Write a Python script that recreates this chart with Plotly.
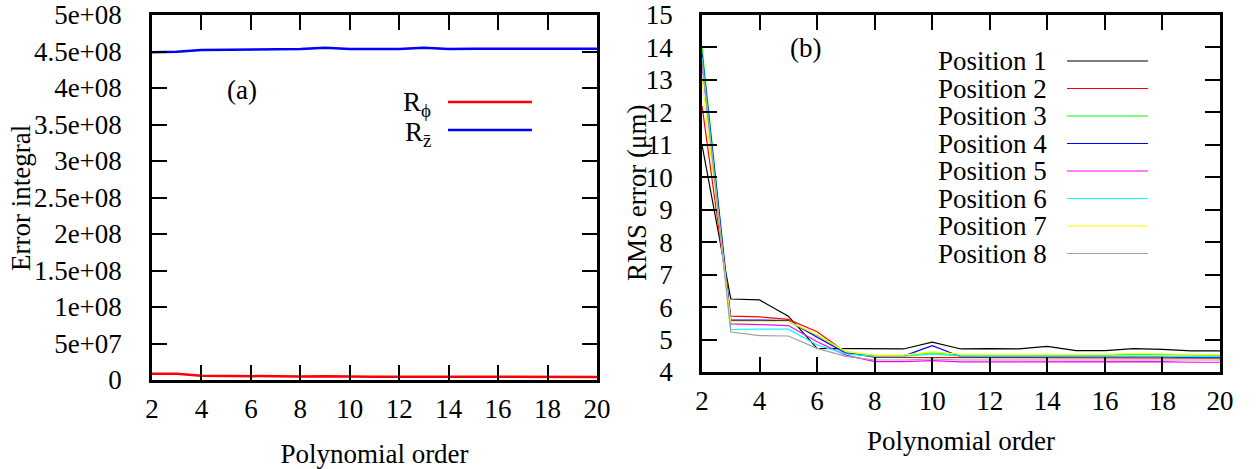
import plotly.graph_objects as go

orders = list(range(2, 21))

# Panel (a): error integral
r_phi = [8.6e6, 8.4e6, 5.9e6, 5.5e6, 5.0e6, 4.8e6, 4.8e6, 5.2e6, 4.6e6, 4.5e6,
         4.5e6, 4.5e6, 4.3e6, 4.2e6, 4.2e6, 4.2e6, 4.2e6, 4.2e6, 4.2e6]
r_z = [4.489e8, 4.495e8, 4.520e8, 4.525e8, 4.530e8, 4.532e8, 4.533e8, 4.552e8, 4.534e8, 4.534e8,
       4.534e8, 4.552e8, 4.534e8, 4.536e8, 4.537e8, 4.538e8, 4.538e8, 4.538e8, 4.539e8]

left_ytickvals = [0, 5e7, 1e8, 1.5e8, 2e8, 2.5e8, 3e8, 3.5e8, 4e8, 4.5e8, 5e8]
left_yticktext = ["0", "5e+07", "1e+08", "1.5e+08", "2e+08", "2.5e+08", "3e+08",
                  "3.5e+08", "4e+08", "4.5e+08", "5e+08"]
x_tickvals = [2, 4, 6, 8, 10, 12, 14, 16, 18, 20]

# Panel (b): RMS error per position
pos_names = ["Position 1", "Position 2", "Position 3", "Position 4",
             "Position 5", "Position 6", "Position 7", "Position 8"]
pos1 = [11.0, 6.25, 6.22, 5.72, 4.73, 4.72, 4.71, 4.71, 4.92, 4.71, 4.72, 4.71, 4.79, 4.66, 4.66, 4.72, 4.70, 4.65, 4.65]
pos2 = [12.2, 5.72, 5.70, 5.62, 5.24, 4.60, 4.45, 4.45, 4.45, 4.43, 4.43, 4.43, 4.43, 4.43, 4.43, 4.44, 4.44, 4.43, 4.43]
pos3 = [14.0, 5.57, 5.56, 5.56, 5.12, 4.62, 4.50, 4.51, 4.60, 4.53, 4.53, 4.53, 4.54, 4.52, 4.52, 4.55, 4.53, 4.51, 4.51]
pos4 = [13.8, 5.60, 5.60, 5.58, 5.07, 4.58, 4.48, 4.49, 4.81, 4.47, 4.47, 4.47, 4.47, 4.47, 4.47, 4.48, 4.47, 4.45, 4.45]
pos5 = [13.5, 5.48, 5.46, 5.43, 4.93, 4.52, 4.32, 4.32, 4.35, 4.31, 4.31, 4.31, 4.31, 4.31, 4.31, 4.33, 4.32, 4.30, 4.30]
pos6 = [13.7, 5.31, 5.32, 5.32, 4.83, 4.56, 4.48, 4.48, 4.55, 4.49, 4.49, 4.49, 4.49, 4.49, 4.49, 4.50, 4.49, 4.47, 4.47]
pos7 = [13.0, 5.55, 5.55, 5.56, 5.14, 4.63, 4.52, 4.52, 4.62, 4.54, 4.54, 4.54, 4.55, 4.54, 4.54, 4.57, 4.55, 4.53, 4.53]
pos8 = [13.6, 5.23, 5.12, 5.11, 4.73, 4.48, 4.37, 4.37, 4.40, 4.37, 4.37, 4.37, 4.37, 4.37, 4.37, 4.38, 4.38, 4.37, 4.37]
pos_series = [pos1, pos2, pos3, pos4, pos5, pos6, pos7, pos8]
pos_colors = ["#000000", "#ff0000", "#00ff00", "#0000ff", "#ff00ff", "#00ffff", "#ffff00", "#a0a0a0"]

W, H = 1258, 469
FONT = "Liberation Serif"
FS = 27

fig = go.Figure()
fig.add_trace(go.Scatter(x=orders, y=r_phi, mode="lines", line=dict(color="#ff0000", width=2.5),
                         xaxis="x", yaxis="y", showlegend=False))
fig.add_trace(go.Scatter(x=orders, y=r_z, mode="lines", line=dict(color="#0000ff", width=2.5),
                         xaxis="x", yaxis="y", showlegend=False))
for name, ys, c in zip(pos_names, pos_series, pos_colors):
    fig.add_trace(go.Scatter(x=orders, y=ys, mode="lines", name=name, line=dict(color=c, width=1.2),
                             xaxis="x2", yaxis="y2", showlegend=False))

def px(x):
    return x / W

def py(y):
    return 1 - y / H

axis_common = dict(showline=True, linecolor="black", linewidth=2.5, mirror="allticks",
                   ticks="inside", ticklen=15, tickwidth=2, tickcolor="black",
                   showgrid=False, zeroline=False, automargin=False,
                   ticklabeloverflow="allow",
                   tickfont=dict(family=FONT, size=FS, color="black"))

fig.update_layout(
    template="none",
    width=W, height=H, margin=dict(l=0, r=0, t=0, b=0, pad=0, autoexpand=False),
    paper_bgcolor="white", plot_bgcolor="white",
    font=dict(family=FONT, size=FS, color="black"),
    xaxis=dict(domain=[px(152), px(597)], range=[2, 20], tickvals=x_tickvals,
               anchor="y", ticklabelstandoff=3,
               title=dict(text="Polynomial order", standoff=22, font=dict(family=FONT, size=FS)),
               **axis_common),
    yaxis=dict(domain=[py(380), py(15)], range=[0, 5e8], tickvals=left_ytickvals,
               ticktext=left_yticktext, anchor="x", ticklabelstandoff=22,
               **axis_common),
    xaxis2=dict(domain=[px(702), px(1220)], range=[2, 20], tickvals=x_tickvals,
                anchor="y2", ticklabelstandoff=3,
                title=dict(text="Polynomial order", standoff=16, font=dict(family=FONT, size=FS)),
                **axis_common),
    yaxis2=dict(domain=[py(372), py(15)], range=[4, 15], dtick=1, anchor="x2",
                ticklabelstandoff=21,
                **axis_common),
)

annotations = [
    dict(text="Error integral", x=px(21), y=py(198), xref="paper", yref="paper", showarrow=False,
         textangle=-90, font=dict(family=FONT, size=FS), xanchor="center", yanchor="middle"),
    dict(text="RMS error (μm)", x=px(637), y=py(193), xref="paper", yref="paper", showarrow=False,
         textangle=-90, font=dict(family=FONT, size=FS), xanchor="center", yanchor="middle"),
    dict(text="(a)", x=px(242), y=py(90), xref="paper", yref="paper", showarrow=False,
         font=dict(family=FONT, size=FS), xanchor="center", yanchor="middle"),
    dict(text="(b)", x=px(805), y=py(48), xref="paper", yref="paper", showarrow=False,
         font=dict(family=FONT, size=FS), xanchor="center", yanchor="middle"),
    dict(text="R<sub>ϕ</sub>", x=px(433), y=py(104), xref="paper", yref="paper", showarrow=False,
         font=dict(family=FONT, size=FS), xanchor="right", yanchor="middle"),
    dict(text="R<sub>z̄</sub>", x=px(433), y=py(134), xref="paper", yref="paper", showarrow=False,
         font=dict(family=FONT, size=FS), xanchor="right", yanchor="middle"),
]
shapes = [
    dict(type="line", xref="paper", yref="paper", x0=px(448), x1=px(532), y0=py(102), y1=py(102),
         line=dict(color="#ff0000", width=2.5)),
    dict(type="line", xref="paper", yref="paper", x0=px(448), x1=px(532), y0=py(130), y1=py(130),
         line=dict(color="#0000ff", width=2.5)),
]
leg_y0, leg_dy = 61, 27.5
for i, (name, c) in enumerate(zip(pos_names, pos_colors)):
    yy = leg_y0 + i * leg_dy
    annotations.append(dict(text=name, x=px(1049), y=py(yy), xref="paper", yref="paper",
                            showarrow=False, font=dict(family=FONT, size=FS), height=22,
                            xanchor="right", yanchor="middle"))
    shapes.append(dict(type="line", xref="paper", yref="paper", x0=px(1067), x1=px(1148),
                       y0=py(yy), y1=py(yy), line=dict(color=c, width=1.2)))

fig.update_layout(annotations=annotations, shapes=shapes)
fig.write_html("out.html")
